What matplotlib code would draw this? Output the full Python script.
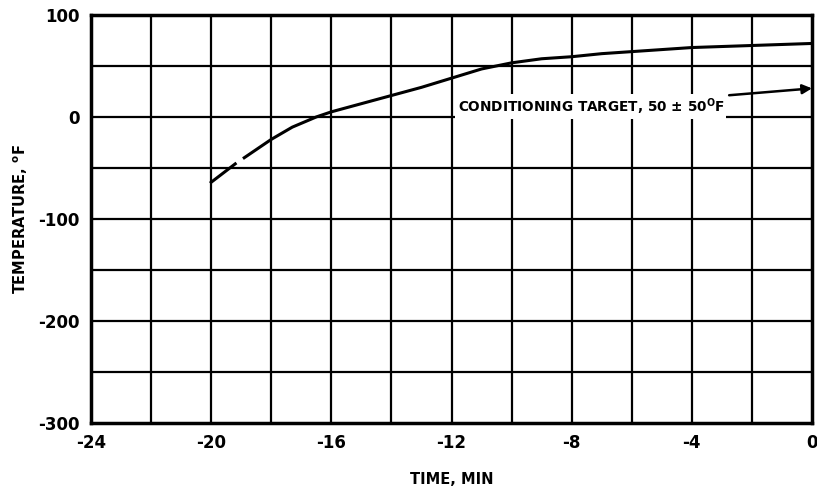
import numpy as np
import matplotlib
matplotlib.use("Agg")
import matplotlib.pyplot as plt

plt.rcParams['font.family'] = ['DejaVu Sans']
plt.rcParams['font.weight'] = 'bold'
plt.rcParams['axes.unicode_minus'] = False

# temperature curve (time in min, temp in deg F)
time_min = [-20.0, -19.6, -19.2, np.nan, -18.9, -18.5, -18.0, -17.3, -16.5, -16.0,
            -15.0, -14.0, -13.0, -12.0, -11.0, -10.0, -9.0, -8.0, -7.0, -6.0,
            -5.0, -4.0, -3.0, -2.0, -1.0, 0.0]
temp_f = [-64, -55, -46, np.nan, -40, -32, -22, -10, 0, 5,
          13, 21, 29, 38, 47, 53, 57, 59, 62, 64,
          66, 68, 69, 70, 71, 72]

xticks = [-24, -20, -16, -12, -8, -4, 0]
xtick_labels = ['-24', '-20', '-16', '-12', '-8', '-4', '0']
yticks = [-300, -200, -100, 0, 100]
target_label = 'CONDITIONING TARGET, 50 \u00b1 50$^{\\mathrm{O}}$F'
target_xy = (0.0, 28)
target_text_xy = (-11.8, 10)

fig = plt.figure(figsize=(8.17, 4.96), dpi=100)
ax = fig.add_axes([0.1114, 0.147, 0.8825, 0.823])

ax.set_xlim(-24, 0)
ax.set_ylim(-300, 100)
ax.set_xticks(xticks)
ax.set_xticklabels(xtick_labels)
ax.set_yticks(yticks)

# grid every 2 min / 50 deg
for gx in np.arange(-22, 0, 2):
    ax.axvline(gx, color='black', lw=1.6, zorder=1)
for gy in np.arange(-250, 100, 50):
    ax.axhline(gy, color='black', lw=1.6, zorder=1)

ax.plot(time_min, temp_f, color='black', lw=2.2, zorder=3)

ax.annotate(target_label, xy=target_xy, xytext=target_text_xy,
            fontsize=9.8, fontweight='bold', va='center', ha='left',
            bbox=dict(boxstyle='square,pad=0.15', fc='white', ec='none'),
            arrowprops=dict(arrowstyle='-|>', color='black', lw=1.8,
                            mutation_scale=14, shrinkA=2, shrinkB=0),
            zorder=4)

for s in ax.spines.values():
    s.set_linewidth(2.5)
ax.tick_params(length=0, labelsize=12, pad=8)
for lab in ax.get_xticklabels() + ax.get_yticklabels():
    lab.set_fontweight('bold')

ax.set_xlabel('TIME, MIN', fontsize=10.5, fontweight='bold', labelpad=14)
ax.set_ylabel('TEMPERATURE, $^{\\mathrm{o}}$F', fontsize=10.5, fontweight='bold', labelpad=6)

fig.savefig('out.png', dpi=100)
